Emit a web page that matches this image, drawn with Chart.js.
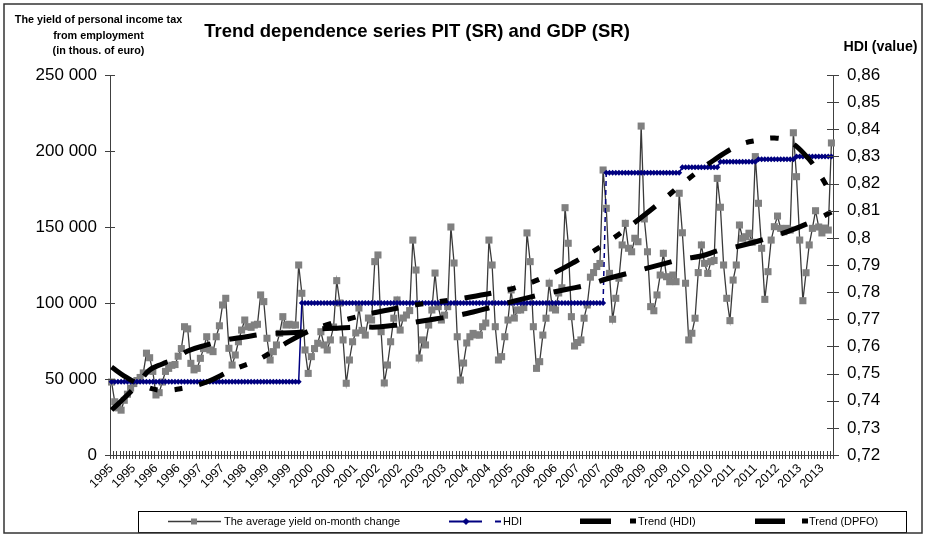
<!DOCTYPE html>
<html>
<head>
<meta charset="utf-8">
<title>Trend dependence series PIT (SR) and GDP (SR)</title>
<script src="https://cdn.jsdelivr.net/npm/chart.js@4.4.1/dist/chart.umd.min.js"></script>
<style>
  html, body { margin: 0; padding: 0; background: #fff; }
  #trendChart { display: block; }
</style>
</head>
<body>
<canvas id="trendChart" width="925" height="535"></canvas>
<script>
// Years shown on the category axis (every month carries its year)
const years = [1995, 1996, 1997, 1998, 1999, 2000, 2001, 2002, 2003, 2004,
               2005, 2006, 2007, 2008, 2009, 2010, 2011, 2012, 2013];

// The average yield on-month change (thous. of euro), one row per year, Jan..Dec
const avgYield = [
    48000, 35000, 31000, 29500, 36000, 40000, 44000, 47000, 49000, 51000, 54000, 67000,
    64000, 55000, 39500, 41000, 48000, 55000, 57000, 59000, 59500, 65000, 70000, 84400,
    83000, 60300, 56000, 57000, 63600, 70000, 77800, 69100, 68000, 77800, 85000, 98700,
    103100, 70200, 59200, 65800, 74500, 82200, 88800, 84400, 84000, 85500, 86000, 105300,
    100900, 76800, 62500, 68000, 72400, 80000, 91000, 85500, 86000, 85500, 85500, 125000,
    106400, 69100, 53700, 64700, 70000, 73500, 81100, 72400, 69100, 75700, 84200, 114700,
    100000, 75700, 47200, 62500, 74500, 80300, 96700, 82000, 78900, 90100, 88800, 127200,
    131600, 81100, 47400, 59200, 74500, 90000, 102000, 82200, 90100, 92100, 95000, 141400,
    121700, 63800, 75700, 72400, 85500, 95400, 119700, 97600, 88800, 92000, 97600, 150000,
    126300, 77800, 49300, 60500, 73700, 77800, 80000, 79000, 78900, 84400, 86800, 141400,
    125000, 84400, 62500, 64700, 77800, 88800, 108600, 90100, 95400, 95400, 97000, 146100,
    127200, 84400, 57000, 61400, 78900, 90000, 113000, 96700, 95400, 106600, 110000, 162700,
    139300, 91000, 71700, 74000, 75700, 90000, 98700, 117000, 120000, 124000, 126000, 187500,
    162300, 119500, 89300, 103100, 116300, 138200, 152400, 136000, 133700, 142600, 140300, 216400,
    155300, 133700, 97600, 94900, 105300, 118400, 132700, 117300, 114000, 118400, 114000, 172200,
    146200, 113000, 75700, 80100, 90000, 120000, 138200, 126100, 119500, 127200, 128000, 182000,
    163000, 125000, 103100, 88400, 115100, 125000, 151300, 142600, 143600, 145900, 140000, 196300,
    165600, 136000, 102400, 120600, 141400, 150200, 157200, 149100, 146900, 149100, 148000, 212000,
    183100, 141400, 101500, 119900, 138200, 149100, 160700, 150000, 146100, 149300, 148000, 205300
];

// HDI, one value per year (right axis)
const hdiByYear = [0.747, 0.747, 0.747, 0.747, 0.747, 0.776, 0.776, 0.776, 0.776, 0.776,
                   0.776, 0.776, 0.776, 0.824, 0.824, 0.826, 0.828, 0.829, 0.830];

// Trend (HDI) at a few months (month number from Jan 1995)
const trendHdiMonths = [0, 4, 8, 15, 23, 30, 38, 46, 54, 61, 68, 76, 84, 96, 107, 115,
                        127, 138, 146, 156, 166, 172, 181, 190, 198, 204, 209, 214, 219, 223, 227];
const trendHdiValues = [0.7524, 0.7491, 0.7465, 0.7439, 0.7447, 0.7469, 0.7513, 0.7550, 0.7605,
                        0.7650, 0.7680, 0.7705, 0.7727, 0.7753, 0.7771, 0.7786, 0.7815, 0.7863,
                        0.7911, 0.7981, 0.8066, 0.8121, 0.8209, 0.8287, 0.8342, 0.8360, 0.8368,
                        0.8353, 0.8302, 0.8240, 0.8160];

// Trend (DPFO) at a few months (left axis)
const trendDpfoMonths = [0, 4, 8, 12, 16, 20, 24, 30, 36, 42, 48, 54, 60, 66, 72, 78, 84, 90,
                         96, 102, 108, 114, 120, 126, 132, 138, 144, 150, 156, 162, 168, 174,
                         180, 186, 192, 198, 204, 210, 216, 222, 227];
const trendDpfoValues = [29600, 37500, 46100, 55900, 59900, 63200, 68400, 72400, 75700, 77600,
                         79600, 80300, 80900, 82900, 83600, 84200, 84200, 85500, 87500, 89500,
                         91400, 94100, 97400, 100700, 103900, 106600, 109200, 111800, 115800,
                         119100, 122400, 125700, 128900, 130900, 134900, 137500, 140800,
                         144700, 149300, 154600, 159900];

// Legend names
const seriesNames = ['The average yield on-month change', 'HDI', 'Trend (HDI)', 'Trend (DPFO)'];

const FONT = '"Liberation Sans", Arial, sans-serif';
const LABEL_EVERY = 7;

// Month labels and monthly HDI built from the yearly lists
const monthLabels = [];
const hdiMonthly = [];
years.forEach((year, k) => {
    for (let m = 0; m < 12; m++) {
        monthLabels.push(String(year));
        hdiMonthly.push(hdiByYear[k]);
    }
});

function sparseSeries(months, values) {
    const out = monthLabels.map(() => null);
    months.forEach((m, j) => { out[m] = values[j]; });
    return out;
}

function formatThousands(v) {
    return String(v).replace(/\B(?=(\d{3})+(?!\d))/g, ' ');
}

function formatDecimalComma(v) {
    return String(Math.round(v * 100) / 100).replace('.', ',');
}

// Narrow font for the legend if it is there
function pickLegendFont() {
    const c = document.createElement('canvas').getContext('2d');
    c.font = '13px monospace';
    const w0 = c.measureText('Trend (DPFO) yield').width;
    c.font = '13px "Liberation Sans Narrow", monospace';
    const w1 = c.measureText('Trend (DPFO) yield').width;
    return w0 !== w1 ? '13px "Liberation Sans Narrow"' : '11px ' + FONT;
}
const legendFont = pickLegendFont();

/**
 * Titles, cross tick marks, legend box and outer frame
 */
const chartDecor = {
    id: 'chartDecor',
    afterDraw(chart) {
        const ctx = chart.ctx;
        const { x, y, y1 } = chart.scales;
        ctx.save();

        // tick marks crossing the axes
        ctx.strokeStyle = '#404040';
        ctx.lineWidth = 1;
        ctx.beginPath();
        const step = x.getPixelForValue(1) - x.getPixelForValue(0);
        for (let i = 0; i <= monthLabels.length; i++) {
            const px = Math.round(x.getPixelForValue(0) + (i - 0.5) * step) + 0.5;
            ctx.moveTo(px, x.top - 4);
            ctx.lineTo(px, x.top + 4);
        }
        y.ticks.forEach((t, i) => {
            const py = Math.round(y.getPixelForTick(i)) + 0.5;
            ctx.moveTo(y.right - 5, py);
            ctx.lineTo(y.right + 5, py);
        });
        y1.ticks.forEach((t, i) => {
            const py = Math.round(y1.getPixelForTick(i)) + 0.5;
            ctx.moveTo(y1.left - 6, py);
            ctx.lineTo(y1.left + 6, py);
        });
        ctx.stroke();

        // titles
        ctx.fillStyle = '#000';
        ctx.textAlign = 'center';
        ctx.textBaseline = 'alphabetic';
        ctx.font = 'bold 18.5px ' + FONT;
        ctx.fillText('Trend dependence series PIT (SR) and GDP (SR)', 417, 37);
        ctx.font = 'bold 10.8px ' + FONT;
        ctx.fillText('The yield of personal income tax', 98.5, 23);
        ctx.fillText('from employment', 98.5, 38.5);
        ctx.fillText('(in thous. of euro)', 98.5, 54);
        ctx.font = 'bold 14.2px ' + FONT;
        ctx.fillText('HDI (value)', 880.5, 51);

        // legend
        const ds = chart.data.datasets;
        const ly = 521.5;
        ctx.strokeStyle = '#000';
        ctx.lineWidth = 1;
        ctx.strokeRect(138.5, 511.5, 768, 21);
        ctx.font = legendFont;
        ctx.textAlign = 'left';
        ctx.textBaseline = 'middle';

        ctx.strokeStyle = ds[0].borderColor;
        ctx.lineWidth = 1.3;
        ctx.beginPath(); ctx.moveTo(168, ly); ctx.lineTo(221, ly); ctx.stroke();
        ctx.fillStyle = ds[0].pointBackgroundColor;
        ctx.fillRect(191, ly - 3, 6, 6);
        ctx.fillStyle = '#000';
        ctx.fillText(seriesNames[0], 224, ly);

        ctx.strokeStyle = ds[1].borderColor;
        ctx.lineWidth = 2;
        ctx.beginPath(); ctx.moveTo(449, ly); ctx.lineTo(482, ly); ctx.stroke();
        ctx.fillStyle = ds[1].pointBackgroundColor;
        ctx.beginPath();
        ctx.moveTo(466, ly - 3.5); ctx.lineTo(469.5, ly); ctx.lineTo(466, ly + 3.5); ctx.lineTo(462.5, ly);
        ctx.closePath(); ctx.fill();
        ctx.beginPath(); ctx.moveTo(495, ly); ctx.lineTo(501, ly); ctx.stroke();
        ctx.fillStyle = '#000';
        ctx.fillText(seriesNames[1], 503, ly);

        [[580, 611, 630, 638, 2], [755, 785, 802, 809, 3]].forEach(([b0, b1, sq, tx, k]) => {
            ctx.fillStyle = ds[k].borderColor;
            ctx.fillRect(b0, ly - 3, b1 - b0, 5.5);
            ctx.fillRect(sq, ly - 3, 6, 5);
            ctx.fillStyle = '#000';
            ctx.fillText(seriesNames[k], tx, ly);
        });

        // outer frame
        ctx.strokeStyle = '#333';
        ctx.lineWidth = 1.5;
        ctx.strokeRect(4, 4, 918, 529);
        ctx.restore();
    }
};

const ctx = document.getElementById('trendChart').getContext('2d');

new Chart(ctx, {
    type: 'line',
    data: {
        labels: monthLabels,
        datasets: [
            {
                label: seriesNames[0],
                data: avgYield,
                yAxisID: 'y',
                order: 3,
                borderColor: '#3a3a3a',
                borderWidth: 1.3,
                pointStyle: 'rect',
                pointRadius: 5,
                pointBorderWidth: 0,
                pointBackgroundColor: '#808080',
                pointBorderColor: '#808080',
                tension: 0
            },
            {
                label: seriesNames[1],
                data: hdiMonthly,
                yAxisID: 'y1',
                order: 2,
                borderColor: '#000080',
                borderWidth: 1.5,
                pointStyle: 'rectRot',
                pointRadius: 3,
                pointBorderWidth: 0,
                pointBackgroundColor: '#000080',
                pointBorderColor: '#000080',
                segment: {
                    borderDash: c => (c.p0DataIndex === 155 ? [5, 4] : undefined)
                }
            },
            {
                label: seriesNames[2],
                data: sparseSeries(trendHdiMonths, trendHdiValues),
                yAxisID: 'y1',
                order: 1,
                borderColor: '#000',
                borderWidth: 5,
                borderDash: [27, 17, 8, 17, 8, 17],
                borderCapStyle: 'butt',
                pointRadius: 0,
                spanGaps: true,
                tension: 0.4
            },
            {
                label: seriesNames[3],
                data: sparseSeries(trendDpfoMonths, trendDpfoValues),
                yAxisID: 'y',
                order: 0,
                borderColor: '#000',
                borderWidth: 5,
                borderDash: [28, 19],
                borderCapStyle: 'butt',
                pointRadius: 0,
                spanGaps: true,
                tension: 0.4
            }
        ]
    },
    options: {
        responsive: false,
        animation: false,
        devicePixelRatio: 1,
        layout: { padding: { top: 75, left: 0, right: 0, bottom: 0 } },
        plugins: {
            legend: { display: false },
            title: { display: false },
            tooltip: { enabled: false }
        },
        scales: {
            x: {
                type: 'category',
                offset: true,
                grid: { display: false, drawTicks: false },
                border: { display: true, color: '#404040', width: 1 },
                ticks: {
                    autoSkip: false,
                    minRotation: 45,
                    maxRotation: 45,
                    padding: 6,
                    color: '#000',
                    font: { family: FONT, size: 12.5 },
                    callback: (value, index) => (index % LABEL_EVERY === 0 ? monthLabels[index] : '')
                },
                afterFit: scale => { scale.height = 80; }
            },
            y: {
                position: 'left',
                min: 0,
                max: 250000,
                grid: { display: false, drawTicks: false },
                border: { display: true, color: '#404040', width: 1 },
                ticks: {
                    stepSize: 50000,
                    padding: 13,
                    color: '#000',
                    font: { family: FONT, size: 17 },
                    callback: v => formatThousands(v)
                },
                afterFit: scale => { scale.width = 110; }
            },
            y1: {
                position: 'right',
                min: 0.72,
                max: 0.86,
                grid: { display: false, drawTicks: false },
                border: { display: true, color: '#404040', width: 1 },
                ticks: {
                    stepSize: 0.01,
                    padding: 14,
                    color: '#000',
                    font: { family: FONT, size: 17 },
                    callback: v => formatDecimalComma(v)
                },
                afterFit: scale => { scale.width = 92; }
            }
        }
    },
    plugins: [chartDecor]
});
</script>
</body>
</html>
